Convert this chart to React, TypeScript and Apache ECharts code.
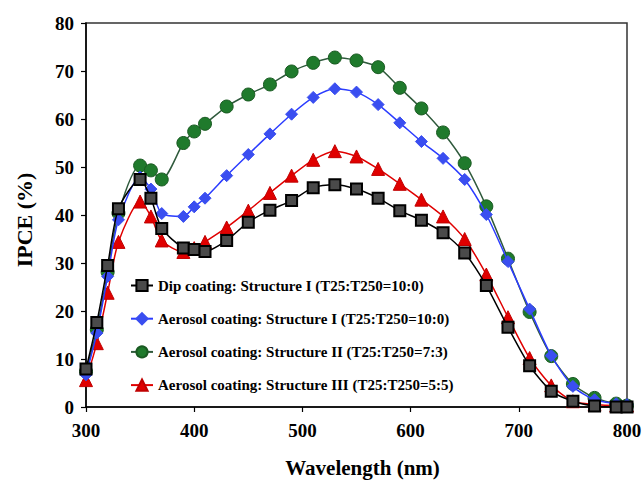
import React, { useEffect, useRef } from "react";
import * as echarts from "echarts";

const wavelengths = [300, 310, 320, 330, 350, 360, 370, 390, 400, 410, 430, 450, 470, 490, 510, 530, 550, 570, 590, 610, 630, 650, 670, 690, 710, 730, 750, 770, 790, 800];

const dipI = [7.9, 17.6, 29.5, 41.3, 47.4, 43.5, 37.2, 33.1, 32.8, 32.4, 34.7, 38.5, 41.0, 43.0, 45.7, 46.3, 45.4, 43.5, 40.9, 38.9, 36.3, 32.1, 25.3, 16.6, 8.6, 3.3, 1.2, 0.2, 0.0, 0.0];
const aeroI = [6.7, 15.4, 27.2, 39.0, 47.9, 45.4, 40.3, 39.7, 41.7, 43.5, 48.2, 52.6, 56.9, 61.0, 64.5, 66.3, 65.6, 63.0, 59.2, 55.3, 51.8, 47.4, 40.1, 30.3, 20.4, 10.7, 4.3, 1.5, 0.7, 0.5];
const aeroII = [7.4, 16.1, 28.1, 40.4, 50.3, 49.3, 47.4, 55.0, 57.4, 59.0, 62.6, 65.1, 67.2, 69.9, 71.7, 72.8, 72.2, 70.8, 66.5, 62.2, 57.2, 50.8, 41.8, 30.9, 19.8, 10.6, 4.8, 1.9, 0.7, 0.3];
const aeroIII = [5.6, 13.3, 23.8, 34.4, 42.8, 39.7, 34.7, 32.3, 33.1, 34.4, 37.4, 40.9, 44.6, 48.2, 51.5, 53.3, 52.2, 49.6, 46.5, 43.2, 39.7, 35.0, 27.6, 18.7, 10.2, 4.5, 1.2, 0.5, 0.3, 0.3];

const seriesNames = [
  "Dip coating: Structure I (T25:T250=10:0)",
  "Aerosol coating: Structure I (T25:T250=10:0)",
  "Aerosol coating: Structure II (T25:T250=7:3)",
  "Aerosol coating: Structure III (T25:T250=5:5)",
];

const xTicks = { min: 300, max: 800, interval: 100 };
const yTicks = { min: 0, max: 80, interval: 10 };

const FONT = "'Liberation Serif', 'Times New Roman', serif";

export default function App() {
  const ref = useRef<HTMLDivElement>(null);
  useEffect(() => {
    if (!ref.current) return;
    const chart = echarts.init(ref.current, null, { renderer: "svg" });
    const pairs = (vals: number[]) => wavelengths.map((w, i) => [w, vals[i]]);
    const styles = [
      { line: "#000000", fill: "#4a4a4a", border: "#000000", symbol: "rect", size: 11 },
      { line: "#2b3cff", fill: "#3a4ef0", border: "#3a4ef0", symbol: "diamond", size: 12 },
      { line: "#2f5a3c", fill: "#1f7a2c", border: "#1a5a22", symbol: "circle", size: 13 },
      { line: "#e00000", fill: "#e00000", border: "#c00000", symbol: "triangle", size: 13 },
    ];
    const datas = [dipI, aeroI, aeroII, aeroIII];
    const order = [2, 1, 3, 0];
    const series = order.map((k) => ({
      name: seriesNames[k],
      type: "line",
      data: pairs(datas[k]),
      smooth: 0.25,
      symbol: styles[k].symbol,
      symbolSize: styles[k].size,
      z: 10 - k,
      lineStyle: { color: styles[k].line, width: 1.5 },
      itemStyle: { color: styles[k].fill, borderColor: styles[k].border, borderWidth: k === 0 ? 2 : 1 },
    }));
    chart.setOption({
      animation: false,
      backgroundColor: "#ffffff",
      grid: {
        left: 86, right: 17, top: 23, bottom: 74,
        containLabel: false, outerBoundsMode: "none",
        show: true, borderColor: "#333", borderWidth: 1.5,
      },
      legend: {
        data: seriesNames,
        orient: "vertical",
        left: 130,
        top: 278,
        padding: 0,
        itemWidth: 22,
        itemHeight: 14,
        itemGap: 18.2,
        textStyle: { fontFamily: FONT, fontWeight: "bold", fontSize: 15, color: "#000" },
      },
      xAxis: {
        type: "value",
        min: xTicks.min,
        max: xTicks.max,
        interval: xTicks.interval,
        name: "Wavelength (nm)",
        nameLocation: "middle",
        nameGap: 50,
        nameTextStyle: { fontFamily: FONT, fontWeight: "bold", fontSize: 21, color: "#000", padding: [0, 0, 0, 12] },
        axisLine: { lineStyle: { color: "#000", width: 1.5 } },
        axisTick: { show: true, inside: false, length: 5, lineStyle: { color: "#000", width: 1.2 } },
        axisLabel: { fontFamily: FONT, fontWeight: "bold", fontSize: 19, color: "#000", margin: 14 },
        splitLine: { show: false },
      },
      yAxis: {
        type: "value",
        min: yTicks.min,
        max: yTicks.max,
        interval: yTicks.interval,
        name: "IPCE (%)",
        nameLocation: "middle",
        nameGap: 51,
        nameTextStyle: { fontFamily: FONT, fontWeight: "bold", fontSize: 22, color: "#000", padding: [0, 10, 0, 0] },
        axisLine: { show: true, lineStyle: { color: "#000", width: 1.5 } },
        axisTick: { show: true, inside: false, length: 5, lineStyle: { color: "#000", width: 1.2 } },
        axisLabel: { fontFamily: FONT, fontWeight: "bold", fontSize: 19, color: "#000", margin: 12 },
        splitLine: { show: false },
      },
      series,
    });
    return () => chart.dispose();
  }, []);
  return <div ref={ref} style={{ width: 644, height: 481, position: "absolute", left: 0, top: 0 }} />;
}
